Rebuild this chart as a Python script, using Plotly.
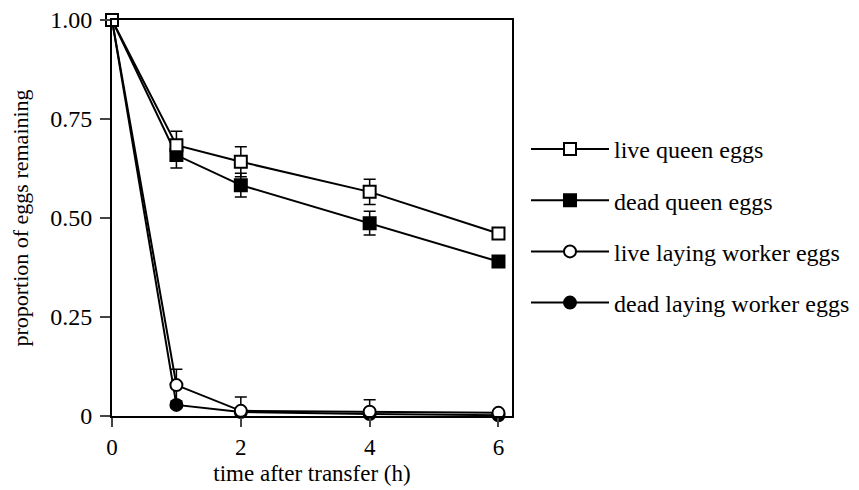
import plotly.graph_objects as go

time_h = [0, 1, 2, 4, 6]
live_queen = [1.00, 0.684, 0.642, 0.566, 0.461]
live_queen_err = [0, 0.035, 0.038, 0.032, 0.005]
dead_queen = [1.00, 0.659, 0.583, 0.487, 0.390]
dead_queen_err = [0, 0.033, 0.03, 0.03, 0.005]
live_worker = [1.00, 0.078, 0.013, 0.011, 0.008]
live_worker_err = [0, 0.04, 0.035, 0.03, 0.004]
dead_worker = [1.00, 0.028, 0.010, 0.005, 0.002]
dead_worker_err = [0, 0.004, 0.004, 0.004, 0.002]

series_names = ["live queen eggs", "dead queen eggs", "live laying worker eggs", "dead laying worker eggs"]
y_tickvals = [0, 0.25, 0.5, 0.75, 1.0]
y_ticktext = ["0", "0.25", "0.50", "0.75", "1.00"]
x_tickvals = [0, 2, 4, 6]

FONT = "Liberation Serif"

fig = go.Figure()
specs = [
    (live_queen, live_queen_err, "square", "white"),
    (dead_queen, dead_queen_err, "square", "black"),
    (live_worker, live_worker_err, "circle", "white"),
    (dead_worker, dead_worker_err, "circle", "black"),
]
order = [3, 2, 1, 0]
for i in order:
    y, err, sym, fill = specs[i]
    fig.add_trace(go.Scatter(
        x=time_h, y=y, name=series_names[i], mode="lines+markers",
        line=dict(color="black", width=2),
        marker=dict(symbol=sym, size=12, color=fill, line=dict(color="black", width=2)),
        error_y=dict(type="data", array=err, visible=True, color="black", thickness=1.5, width=6),
        cliponaxis=False, legendrank=i + 1, legendgroup=str(i),
    ))

fig.update_layout(
    width=859, height=490,
    margin=dict(l=104, r=355, t=12, b=82, autoexpand=False),
    paper_bgcolor="white", plot_bgcolor="white",
    font=dict(family=FONT, size=23, color="black"),
    showlegend=True,
    legend=dict(x=1.035, y=0.73, xanchor="left", yanchor="top",
                font=dict(family=FONT, size=24), itemwidth=78,
                tracegroupgap=17, bgcolor="rgba(0,0,0,0)"),
    xaxis=dict(range=[0, 6.21], tickvals=x_tickvals, ticks="outside", ticklen=9, tickwidth=2,
               showline=True, linecolor="black", linewidth=2, mirror=True, showgrid=False,
               zeroline=False, automargin=False, ticklabeloverflow="allow",
               title=dict(text="time after transfer (h)", standoff=6, font=dict(size=23)),
               tickfont=dict(size=23)),
    yaxis=dict(range=[0, 1.0], tickvals=y_tickvals, ticktext=y_ticktext, ticks="outside",
               ticklen=10, tickwidth=2, showline=True, linecolor="black", linewidth=2,
               mirror=True, showgrid=False, zeroline=False, automargin=False,
               ticklabeloverflow="allow", ticklabelstandoff=3,
               title=dict(text="proportion of eggs remaining", standoff=18, font=dict(size=22)),
               tickfont=dict(size=24)),
)

fig.write_html("out.html")
